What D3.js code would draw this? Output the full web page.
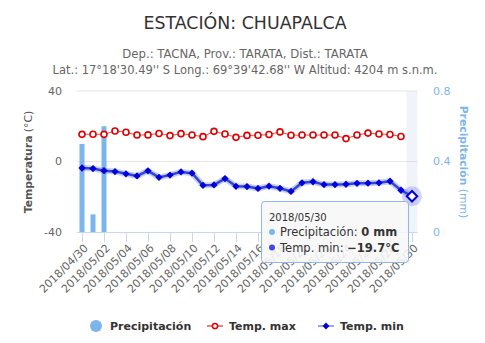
<!DOCTYPE html>
<html>
<head>
<meta charset="utf-8">
<script src="https://cdn.jsdelivr.net/npm/d3@7"></script>
<style>
  body { margin: 0; background: #fff; }
  svg { font-family: 'Lucida Grande', 'Lucida Sans Unicode', 'DejaVu Sans', sans-serif; }
</style>
</head>
<body>
<svg id="chart" width="485" height="343"></svg>
<script>
// datos
const fechas = d3.range(0, 31).map(i => d3.timeFormat('%Y/%m/%d')(new Date(2018, 3, 30 + i)));
const precipitacion = [0.5, 0.1, 0.6, 0, 0, 0, 0, 0, 0, 0, 0, 0, 0, 0, 0, 0,
  0, 0, 0, 0, 0, 0, 0, 0, 0, 0, 0, 0, 0, 0, 0];
const tempMax = [15.4, 15.5, 15.4, 17.3, 16.6, 15.0, 15.1, 15.9, 14.7, 15.8, 15.0, 14.1, 17.1, 15.6, 13.7, 14.8,
  14.9, 15.3, 16.8, 14.9, 15.0, 15.0, 15.0, 15.0, 13.0, 15.0, 16.1, 15.6, 15.3, 14.2, null];
const tempMin = [-3.7, -4.0, -5.2, -5.7, -7.0, -8.2, -5.3, -9.0, -7.7, -5.9, -6.6, -13.5, -13.3, -9.7, -14.1, -14.2,
  -15.3, -14.0, -15.2, -17.0, -12.1, -11.5, -13.1, -13.1, -12.9, -12.4, -12.3, -12.1, -11.2, -16.3, -19.7];
const ticksTemp = [-40, 0, 40];
const ticksPrec = [0, 0.4, 0.8];

const svg = d3.select('#chart');
const pLeft = 76.5, pRight = 417.5, pTop = 91, pBottom = 232;

const x = d3.scaleBand().domain(fechas).range([pLeft, pRight]);
const cx = d => x(d) + x.bandwidth() / 2;
const yT = d3.scaleLinear().domain([-40, 40]).range([pBottom, pTop]);
const yP = d3.scaleLinear().domain([0, 0.8]).range([pBottom, pTop]);

// titulos
svg.append('text').attr('x', 245).attr('y', 29).attr('text-anchor', 'middle')
  .attr('fill', '#333').style('font-size', '17.4px').text('ESTACIÓN: CHUAPALCA');
svg.append('text').attr('x', 245).attr('y', 58).attr('text-anchor', 'middle')
  .attr('fill', '#666').style('font-size', '11.7px').text('Dep.: TACNA, Prov.: TARATA, Dist.: TARATA');
svg.append('text').attr('x', 245).attr('y', 73.5).attr('text-anchor', 'middle')
  .attr('fill', '#666').style('font-size', '11.5px')
  .text("Lat.: 17°18'30.49'' S Long.: 69°39'42.68'' W Altitud: 4204 m s.n.m.");

// rejilla
svg.append('g').selectAll('line').data(ticksTemp.filter(t => t !== -40)).join('line')
  .attr('x1', pLeft).attr('x2', pRight).attr('y1', d => yT(d)).attr('y2', d => yT(d))
  .attr('stroke', '#e6e6e6');

// banda de hover
const ultimo = fechas[fechas.length - 1];
svg.append('rect').attr('x', x(ultimo)).attr('y', pTop).attr('width', x.bandwidth())
  .attr('height', pBottom - pTop).attr('fill', 'rgba(204,214,235,0.3)');

// eje x
svg.append('line').attr('x1', pLeft).attr('x2', pRight).attr('y1', pBottom + 0.5).attr('y2', pBottom + 0.5)
  .attr('stroke', '#ccd6eb');
const fechasEje = fechas.filter((d, i) => i % 2 === 0);
svg.append('g').selectAll('line').data(fechasEje).join('line')
  .attr('x1', d => Math.round(cx(d)) + 0.5).attr('x2', d => Math.round(cx(d)) + 0.5)
  .attr('y1', pBottom).attr('y2', pBottom + 10).attr('stroke', '#ccd6eb');
svg.append('g').selectAll('text').data(fechasEje).join('text')
  .attr('transform', d => `translate(${cx(d) + 4},${pBottom + 14}) rotate(-45)`)
  .attr('text-anchor', 'end').attr('dy', '0.35em')
  .attr('fill', '#666').style('font-size', '11px').text(d => d);

// ejes y
svg.append('g').selectAll('text').data(ticksTemp).join('text')
  .attr('x', 62).attr('y', d => yT(d)).attr('dy', '0.35em').attr('text-anchor', 'end')
  .attr('fill', '#666').style('font-size', '11px').text(d => d);
svg.append('g').selectAll('text').data(ticksPrec).join('text')
  .attr('x', 433).attr('y', d => yP(d)).attr('dy', '0.35em')
  .attr('fill', '#7cb5ec').style('font-size', '11px').text(d => d);

const tituloIzq = svg.append('text').attr('transform', 'translate(32,162) rotate(-90)')
  .attr('text-anchor', 'middle').attr('fill', '#555').style('font-size', '10.8px');
tituloIzq.append('tspan').style('font-weight', 'bold').text('Temperatura');
tituloIzq.append('tspan').text(' (°C)');
const tituloDer = svg.append('text').attr('transform', 'translate(460,162) rotate(90)')
  .attr('text-anchor', 'middle').attr('fill', '#7cb5ec').style('font-size', '10.8px');
tituloDer.append('tspan').style('font-weight', 'bold').text('Precipitación');
tituloDer.append('tspan').text(' (mm)');

// barras de precipitacion
svg.append('g').selectAll('rect').data(fechas).join('rect')
  .attr('x', d => cx(d) - 2.5).attr('width', 5)
  .attr('y', (d, i) => yP(precipitacion[i]))
  .attr('height', (d, i) => pBottom - yP(precipitacion[i]))
  .attr('fill', '#7cb5ec');

// temp max
const ptsMax = fechas.map((d, i) => [cx(d), tempMax[i]]).filter(p => p[1] !== null);
svg.append('path').datum(ptsMax)
  .attr('d', d3.line().x(p => p[0]).y(p => yT(p[1])))
  .attr('fill', 'none').attr('stroke', '#f04848').attr('stroke-width', 1);
svg.append('g').selectAll('circle').data(ptsMax).join('circle')
  .attr('cx', p => p[0]).attr('cy', p => yT(p[1])).attr('r', 3)
  .attr('fill', '#fff').attr('stroke', '#e00000').attr('stroke-width', 1.6);

// temp min
const ptsMin = fechas.map((d, i) => [cx(d), tempMin[i]]);
const lineaMin = d3.line().x(p => p[0]).y(p => yT(p[1]));
svg.append('path').datum(ptsMin).attr('d', lineaMin)
  .attr('fill', 'none').attr('stroke', 'rgba(40,60,220,0.25)').attr('stroke-width', 6)
  .attr('stroke-linejoin', 'round');
svg.append('path').datum(ptsMin).attr('d', lineaMin)
  .attr('fill', 'none').attr('stroke', '#3346d0').attr('stroke-width', 2.5)
  .attr('stroke-linejoin', 'round');
const diamante = d3.symbol().type(d3.symbolDiamond2);
svg.append('g').selectAll('path').data(ptsMin.slice(0, -1)).join('path')
  .attr('transform', p => `translate(${p[0]},${yT(p[1])})`)
  .attr('d', diamante.size(34)()).attr('fill', '#0000dd');
const ult = ptsMin[ptsMin.length - 1];
svg.append('circle').attr('cx', ult[0]).attr('cy', yT(ult[1])).attr('r', 10)
  .attr('fill', 'rgba(60,60,230,0.22)');
svg.append('path').attr('transform', `translate(${ult[0]},${yT(ult[1])})`)
  .attr('d', diamante.size(70)()).attr('fill', '#fff').attr('stroke', '#0000dd').attr('stroke-width', 2);

// leyenda
const ley = svg.append('g').style('font-size', '11px').style('font-weight', 'bold').attr('fill', '#333');
ley.append('circle').attr('cx', 96).attr('cy', 326).attr('r', 6).attr('fill', '#7cb5ec');
ley.append('text').attr('x', 110).attr('y', 330).text('Precipitación');
ley.append('line').attr('x1', 207).attr('x2', 223).attr('y1', 326).attr('y2', 326).attr('stroke', '#f08080').attr('stroke-width', 2);
ley.append('circle').attr('cx', 215).attr('cy', 326).attr('r', 2.6).attr('fill', '#fff').attr('stroke', '#e00000').attr('stroke-width', 1.5);
ley.append('text').attr('x', 229).attr('y', 330).text('Temp. max');
ley.append('line').attr('x1', 318).attr('x2', 334).attr('y1', 326).attr('y2', 326).attr('stroke', '#9aa6e8').attr('stroke-width', 2);
ley.append('path').attr('transform', 'translate(326,326)').attr('d', diamante.size(30)()).attr('fill', '#0000dd');
ley.append('text').attr('x', 340).attr('y', 330).text('Temp. min');

// tooltip
const tip = svg.append('g').attr('transform', 'translate(261,201)');
tip.append('rect').attr('x', 1).attr('y', 1).attr('width', 147).attr('height', 61).attr('rx', 3)
  .attr('fill', 'rgba(0,0,0,0.08)');
tip.append('rect').attr('x', 0.5).attr('y', 0.5).attr('width', 147).attr('height', 61).attr('rx', 3)
  .attr('fill', 'rgba(249,249,249,0.88)').attr('stroke', '#8fb8e6');
tip.append('text').attr('x', 8).attr('y', 20).attr('fill', '#333').style('font-size', '10px').text(ultimo);
const filas = [
  { color: '#7cb5ec', nombre: 'Precipitación: ', valor: precipitacion[30] + ' mm' },
  { color: '#4646e0', nombre: 'Temp. min: ', valor: '−' + Math.abs(tempMin[30]) + '°C' }
];
filas.forEach((f, i) => {
  const yy = 35 + i * 15.5;
  tip.append('circle').attr('cx', 11).attr('cy', yy - 4).attr('r', 3).attr('fill', f.color);
  const t = tip.append('text').attr('x', 19).attr('y', yy).attr('fill', '#333').style('font-size', '11.5px');
  t.append('tspan').text(f.nombre);
  t.append('tspan').style('font-weight', 'bold').text(f.valor);
});
</script>
</body>
</html>
